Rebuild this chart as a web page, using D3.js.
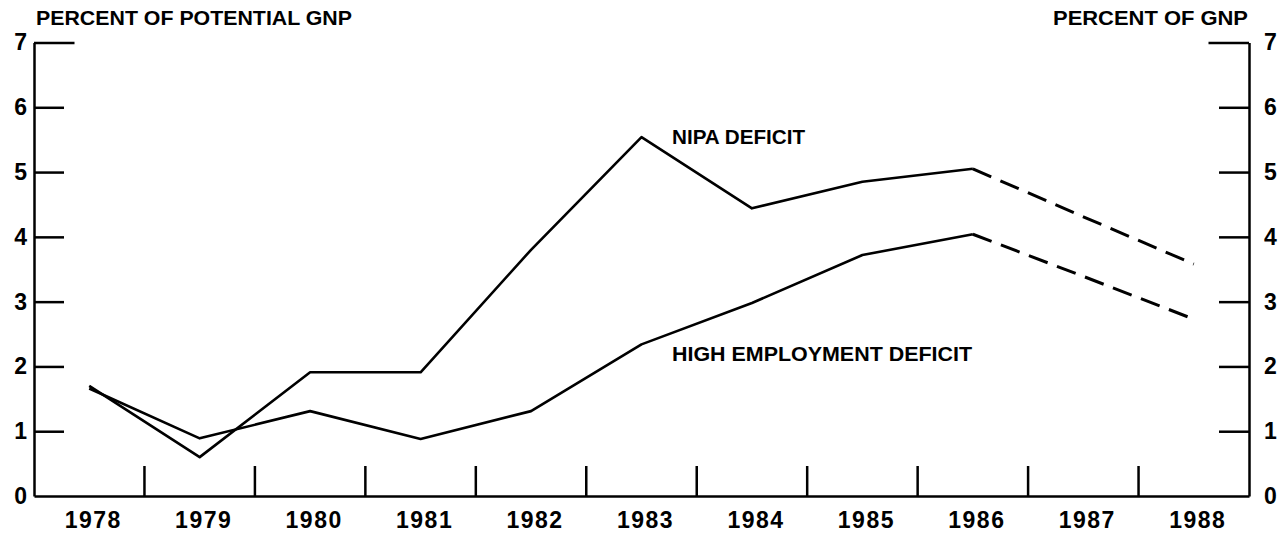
<!DOCTYPE html>
<html>
<head>
<meta charset="utf-8">
<script src="https://cdn.jsdelivr.net/npm/d3@7"></script>
<style>
  body { margin: 0; background: #fff; }
  svg { display: block; font-family: "Liberation Sans", Arial, sans-serif; font-weight: bold; }
</style>
</head>
<body>
<section></section>
<script>
"use strict";

// chart data
const years = ["1978", "1979", "1980", "1981", "1982", "1983", "1984", "1985", "1986", "1987", "1988"];
const nipaDeficit = [1.70, 0.60, 1.91, 1.91, 3.80, 5.54, 4.44, 4.85, 5.05, 4.31, 3.58];
const highEmpDeficit = [1.66, 0.89, 1.31, 0.88, 1.31, 2.34, 2.98, 3.72, 4.04, 3.39, 2.73];
const yTicks = [0, 1, 2, 3, 4, 5, 6, 7];
const lastActual = "1986"; // projections after this year are dashed

const w = 1285;
const h = 533;
const plotLeft = 34;
const plotRight = 1249;
const plotTop = 42.5;
const plotBottom = 496;

const svg = d3.select("section").append("svg").attr("width", w).attr("height", h);

const xScale = d3.scaleBand().domain(years).range([plotLeft, plotRight]).padding(0);
const yScale = d3.scaleLinear().domain([0, 7]).range([plotBottom, plotTop]);
const cx = (d) => xScale(d) + xScale.bandwidth() / 2;

//Axis titles
svg.append("text")
  .attr("x", 36).attr("y", 25)
  .attr("font-size", 21)
  .attr("textLength", 316).attr("lengthAdjust", "spacingAndGlyphs")
  .text("PERCENT OF POTENTIAL GNP");

svg.append("text")
  .attr("x", 1053).attr("y", 25)
  .attr("font-size", 21)
  .attr("textLength", 195).attr("lengthAdjust", "spacingAndGlyphs")
  .text("PERCENT OF GNP");

//Left and right y axes, ticks pointing inwards
const yAxisL = d3.axisLeft(yScale).tickValues(yTicks).tickFormat(d3.format("d"))
  .tickSize(-30).tickSizeOuter(0).tickPadding(7);
const yAxisR = d3.axisRight(yScale).tickValues(yTicks).tickFormat(d3.format("d"))
  .tickSize(-30).tickSizeOuter(0).tickPadding(15);

const styleAxis = (g) => {
  g.selectAll("path, line").attr("stroke", "#000").attr("stroke-width", 2.5);
  g.selectAll("text").attr("font-size", 23).attr("fill", "#000").attr("font-family", "Liberation Sans, Arial, sans-serif");
  g.attr("font-weight", "bold");
  //the 7 tick is a little longer, like a frame corner
  g.selectAll(".tick").filter((d) => d === 7).select("line").attr("x2", function () {
    return +d3.select(this).attr("x2") * 1.35;
  });
  //no tick at zero, the baseline is there
  g.selectAll(".tick").filter((d) => d === 0).select("line").remove();
};

svg.append("g").attr("transform", `translate(${plotLeft},0)`).call(yAxisL).call(styleAxis);
svg.append("g").attr("transform", `translate(${plotRight},0)`).call(yAxisR).call(styleAxis);

//Bottom axis: labels centred on years, ticks between years
const xAxis = d3.axisBottom(xScale).tickSize(0).tickPadding(16);
const xAxisG = svg.append("g").attr("transform", `translate(0,${plotBottom})`).call(xAxis);
xAxisG.select(".domain").attr("stroke", "#000").attr("stroke-width", 2.5);
xAxisG.selectAll("text")
  .attr("font-size", 23).attr("fill", "#000")
  .attr("letter-spacing", 1.5)
  .attr("dx", 4).attr("dy", "0.71em")
  .attr("font-family", "Liberation Sans, Arial, sans-serif");
xAxisG.attr("font-weight", "bold");

svg.append("g")
  .selectAll("line")
  .data(years.slice(1))
  .enter()
  .append("line")
  .attr("x1", (d) => xScale(d))
  .attr("x2", (d) => xScale(d))
  .attr("y1", plotBottom)
  .attr("y2", plotBottom - 30)
  .attr("stroke", "#000")
  .attr("stroke-width", 2.5);

//Lines
const line = d3.line().x((d) => cx(d.year)).y((d) => yScale(d.value));
const cut = years.indexOf(lastActual);

const drawSeries = (values) => {
  const pts = years.map((year, i) => ({ year, value: values[i] }));
  svg.append("path")
    .datum(pts.slice(0, cut + 1))
    .attr("d", line)
    .attr("fill", "none").attr("stroke", "#000").attr("stroke-width", 2.6)
    .attr("stroke-linejoin", "round");
  svg.append("path")
    .datum(pts.slice(cut))
    .attr("d", line)
    .attr("fill", "none").attr("stroke", "#000").attr("stroke-width", 3)
    .attr("stroke-dasharray", "20,10");
};

drawSeries(nipaDeficit);
drawSeries(highEmpDeficit);

//Series labels
svg.append("text")
  .attr("x", 672).attr("y", 144)
  .attr("font-size", 20)
  .attr("textLength", 133).attr("lengthAdjust", "spacingAndGlyphs")
  .text("NIPA DEFICIT");

svg.append("text")
  .attr("x", 672).attr("y", 361)
  .attr("font-size", 21)
  .attr("textLength", 300).attr("lengthAdjust", "spacingAndGlyphs")
  .text("HIGH EMPLOYMENT DEFICIT");
</script>
</body>
</html>
